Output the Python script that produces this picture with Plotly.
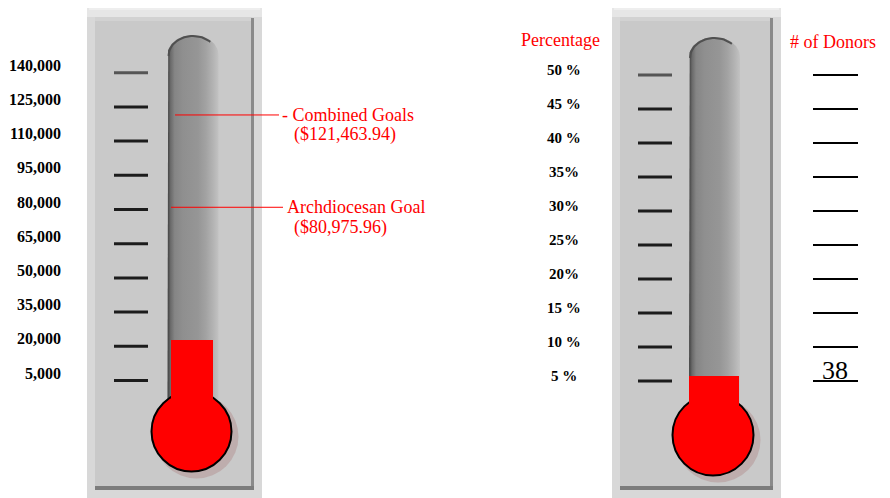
import math
import plotly.graph_objects as go

# ---------------- data ----------------
amount_ticks = [140000, 125000, 110000, 95000, 80000, 65000, 50000, 35000, 20000, 5000]
amount_labels = ["140,000", "125,000", "110,000", "95,000", "80,000", "65,000",
                 "50,000", "35,000", "20,000", "5,000"]
raised_amount = 22800

goal_values = [121463.94, 80975.96]
goal_names = ["- Combined Goals", "Archdiocesan Goal"]
goal_amount_text = ["($121,463.94)", "($80,975.96)"]

pct_ticks = [50, 45, 40, 35, 30, 25, 20, 15, 10, 5]
pct_labels = ["50 %", "45 %", "40 %", "35%", "30%", "25%", "20%", "15 %", "10 %", "5 %"]
raised_pct = 5.7

donor_count = 38

# ---------------- layout helpers (pixel geometry) ----------------
W, H = 890, 498
OFF = 8  # default page body margin
SERIF = "Liberation Serif, Times New Roman, serif"


def scale(top_val, top_px, step_val, step_px):
    return lambda p: top_val - (p - top_px) / step_px * step_val


amt_at = scale(140000, 72.7, 15000, 34.2)
pct_at = scale(50, 75.0, 5, 34.0)

fig = go.Figure()
shapes = []
annotations = []


def rect(x0, y0, x1, y1, color, layer="below"):
    shapes.append(dict(type="rect", xref="x", yref="y", x0=x0, x1=x1, y0=y0, y1=y1,
                       fillcolor=color, line=dict(width=0), layer=layer))


def panel(x0, x1):
    rect(x0, 4, x1, H + OFF, "#d8d8d8")
    rect(x0, 4, x1, 17, "#e6e6e6")
    rect(x0 + 2, 6, x1 - 2, 10, "#eeeeee")
    rect(x0 + 8, 19, x1 - 10, 487, "#c9c9c9")
    rect(x0 + 8, 17, x1 - 10, 21, "#d2d2d2")
    rect(x1 - 11, 18, x1 - 8, 489, "#8a8a8a")
    rect(x0 + 8, 486, x1 - 8, 490, "#7c7c7c")


def tube(cx, half, top, bottom):
    xs, ys = [], []
    cap = 20
    xs.append(cx - half); ys.append(bottom)
    for i in range(0, 41):
        a = math.pi - math.pi * i / 40
        xs.append(cx + half * math.cos(a))
        ys.append(top + cap - cap * math.sin(a))
    xs.append(cx + half); ys.append(bottom)
    xs.append(cx - half); ys.append(bottom)
    fig.add_trace(go.Scatter(
        x=xs, y=ys, xaxis="x", yaxis="y", mode="lines", fill="toself",
        line=dict(width=0, color="#888888"),
        fillgradient=dict(type="horizontal", colorscale=[
            [0.0, "#3e3e3e"], [0.06, "#6a6a6a"], [0.14, "#858585"], [0.3, "#8f8f8f"],
            [0.6, "#969696"], [0.75, "#a2a2a2"], [0.9, "#b4b4b4"], [1.0, "#c2c2c2"]]),
        hoverinfo="skip", showlegend=False))
    ax, ay = [], []
    for i in range(0, 31):
        a = math.pi - math.pi * 0.75 * i / 30
        ax.append(cx + (half - 1) * math.cos(a))
        ay.append(top + cap - cap * math.sin(a) + 1)
    fig.add_trace(go.Scatter(x=ax, y=ay, xaxis="x", yaxis="y", mode="lines",
                             line=dict(width=2, color="#505050"),
                             hoverinfo="skip", showlegend=False))


def bulb(cx, cy, d):
    fig.add_trace(go.Scatter(
        x=[cx + 5], y=[cy + 5], xaxis="x", yaxis="y", mode="markers",
        marker=dict(size=d + 4, color="rgba(170,120,120,0.35)", line=dict(width=0)),
        hoverinfo="skip", showlegend=False))
    fig.add_trace(go.Scatter(
        x=[cx], y=[cy], xaxis="x", yaxis="y", mode="markers",
        marker=dict(size=d, color="#ff0000", line=dict(width=2, color="#000000")),
        hoverinfo="skip", showlegend=False))


# ---------- left thermometer ----------
panel(87, 262)
tube(193, 25.5, 35, 400)
bulb(191.5, 431.5, 80)

# ---------- right thermometer ----------
panel(612, 781)
tube(714.5, 25.5, 37, 404)
bulb(713, 435, 81)

# red columns (values through the value axes)
left_base = amt_at(431.5)
fig.add_trace(go.Bar(x=[192], y=[raised_amount - left_base], base=[left_base],
                     width=[42], xaxis="x", yaxis="y2", marker=dict(color="#ff0000", line=dict(width=0)),
                     hoverinfo="skip", showlegend=False))
right_base = pct_at(435)
fig.add_trace(go.Bar(x=[714], y=[raised_pct - right_base], base=[right_base],
                     width=[50], xaxis="x", yaxis="y3", marker=dict(color="#ff0000", line=dict(width=0)),
                     hoverinfo="skip", showlegend=False))

# scale dashes and labels
for i, (v, lab) in enumerate(zip(amount_ticks, amount_labels)):
    shapes.append(dict(type="line", xref="x", yref="y2", x0=114, x1=148, y0=v, y1=v,
                       line=dict(width=3, color="#555555" if i == 0 else "#1c1c1c"), layer="below"))
    annotations.append(dict(x=63, y=v, xref="x", yref="y2", text=lab, showarrow=False,
                            xanchor="right", yanchor="middle", yshift=7.5,
                            font=dict(family=SERIF, size=16, color="#000000", weight="bold")))

for i, (v, lab) in enumerate(zip(pct_ticks, pct_labels)):
    shapes.append(dict(type="line", xref="x", yref="y3", x0=638, x1=672, y0=v, y1=v,
                       line=dict(width=3, color="#555555" if i == 0 else "#1c1c1c"), layer="below"))
    annotations.append(dict(x=564, y=v, xref="x", yref="y3", text=lab, showarrow=False,
                            xanchor="center", yanchor="middle", yshift=5,
                            font=dict(family=SERIF, size=15, color="#000000", weight="bold")))
    shapes.append(dict(type="line", xref="x", yref="y3", x0=813, x1=858, y0=v, y1=v,
                       line=dict(width=2, color="#000000"), layer="above"))

annotations.append(dict(x=835, y=pct_ticks[-1], xref="x", yref="y3", text=str(donor_count),
                        showarrow=False, xanchor="center", yanchor="middle", yshift=11,
                        font=dict(family=SERIF, size=26, color="#000000")))

# goal markers
goal_line_x0 = [175, 171]
goal_line_x1 = [279, 283]
goal_text_x = [280, 285]
for v, name, amt, gx0, gx1, tx in zip(goal_values, goal_names, goal_amount_text,
                                      goal_line_x0, goal_line_x1, goal_text_x):
    shapes.append(dict(type="line", xref="x", yref="y2", x0=gx0, x1=gx1, y0=v, y1=v,
                       line=dict(width=1, color="#ff0000"), layer="above"))
    annotations.append(dict(x=tx, y=v, xref="x", yref="y2", text=name, showarrow=False,
                            xanchor="left", yanchor="middle", yshift=0,
                            font=dict(family=SERIF, size=18, color="#ff0000")))
    annotations.append(dict(x=292, y=v, xref="x", yref="y2", text=amt, showarrow=False,
                            xanchor="left", yanchor="middle", yshift=-20,
                            font=dict(family=SERIF, size=18, color="#ff0000")))

annotations.append(dict(x=560.5, y=40, xref="x", yref="y", text="Percentage", showarrow=False,
                        xanchor="center", yanchor="middle",
                        font=dict(family=SERIF, size=18, color="#ff0000")))
annotations.append(dict(x=833, y=42, xref="x", yref="y", text="# of Donors", showarrow=False,
                        xanchor="center", yanchor="middle",
                        font=dict(family=SERIF, size=18, color="#ff0000")))

fig.update_layout(
    width=W, height=H, margin=dict(l=0, r=0, t=0, b=0),
    paper_bgcolor="#ffffff", plot_bgcolor="#ffffff", showlegend=False,
    xaxis=dict(range=[OFF, W + OFF], visible=False, fixedrange=True),
    yaxis=dict(range=[H + OFF, OFF], visible=False, fixedrange=True),
    yaxis2=dict(range=[amt_at(H + OFF), amt_at(OFF)], overlaying="y", visible=False, fixedrange=True),
    yaxis3=dict(range=[pct_at(H + OFF), pct_at(OFF)], overlaying="y", visible=False, fixedrange=True),
    shapes=shapes, annotations=annotations, bargap=0,
)

fig.write_html("out.html")
